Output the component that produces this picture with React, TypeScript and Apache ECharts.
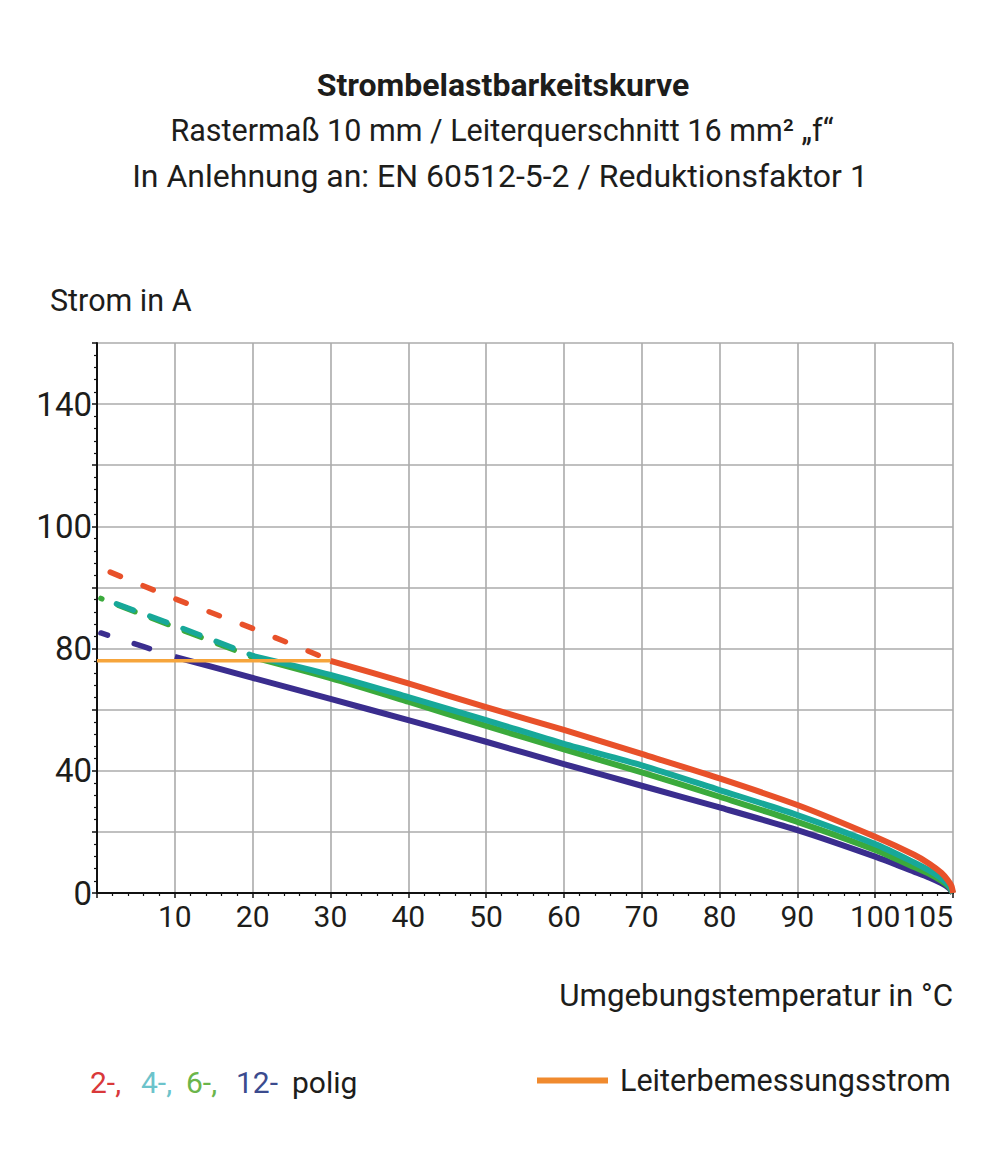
import React, { useEffect, useRef } from "react";
import * as echarts from "echarts";

// ---------- text ----------
const titleMain = "Strombelastbarkeitskurve";
const titleSub1 = "Rastermaß 10 mm / Leiterquerschnitt 16 mm² „f“";
const titleSub2 = "In Anlehnung an: EN 60512-5-2 / Reduktionsfaktor 1";
const yAxisTitle = "Strom in A";
const xAxisTitle = "Umgebungstemperatur in °C";
const ratedName = "Leiterbemessungsstrom";
const poleParts = ["2-,", "4-,", "6-,", "12-", "polig"];

// tick labels as printed on the original (one per grid line)
const xTickLabels = ["", "10", "20", "30", "40", "50", "60", "70", "80", "90", "100", "105"];
const yTickLabels = ["0", "", "40", "", "80", "", "100", "", "140", ""];

// ---------- data (axis units) ----------
const redDashX = [1.7, 10, 20, 30];
const redDashY = [105, 96.3, 86.6, 76.2];
const redX = [30, 40, 50, 60, 70, 80, 90, 100, 105, 107, 108.5, 109.3, 109.8, 110];
const redY = [76, 68.6, 60.8, 53.4, 45.5, 37.5, 28.8, 18.4, 12.5, 9.5, 6.6, 4.3, 2.3, 0];

const tealDashX = [2.5, 10, 20];
const tealDashY = [94.6, 87.6, 77.7];
const tealX = [20, 30, 40, 50, 60, 70, 80, 90, 100, 105, 107, 108.5, 109.5, 110];
const tealY = [77.6, 71.4, 64.1, 56.6, 48.8, 41.8, 33.7, 25.5, 16.0, 10.0, 7.3, 4.8, 2.4, 0];

const greenDashX = [0.5, 10, 20];
const greenDashY = [96.4, 87.0, 77.2];
const greenX = [20, 30, 40, 50, 60, 70, 80, 90, 100, 105, 107, 108.5, 109.5, 110];
const greenY = [77.2, 70.3, 62.6, 54.7, 47.0, 39.5, 31.5, 23.3, 14.1, 8.5, 6.2, 4.0, 2.0, 0];

const blueDashX = [0.5, 6, 10];
const blueDashY = [85.1, 80.6, 77.3];
const blueX = [10, 20, 30, 40, 50, 60, 70, 80, 90, 100, 105, 107, 108.5, 109.5, 110];
const blueY = [77.3, 70.4, 63.5, 56.6, 49.5, 42.2, 35.1, 28.0, 20.6, 11.9, 7.0, 5.0, 3.2, 1.6, 0];

const ratedX = [0, 30];
const ratedY = [76, 76];

// ---------- style ----------
const FONT = "Roboto, 'Noto Sans', sans-serif";
const TEXT = "#1d1d1b";
const C_RED = "#E8512A";
const C_TEAL = "#17A899";
const C_GREEN = "#3BAA3C";
const C_BLUE = "#3A2D8E";
const C_ORANGE = "#F6A53C";
const C_ORANGE_LEG = "#F08A2E";

const zip = (xs: number[], ys: number[]) => xs.map((x, i) => [x, ys[i]]);

function solid(name: string, xs: number[], ys: number[], color: string, z: number) {
  return {
    type: "line",
    name,
    data: zip(xs, ys),
    showSymbol: false,
    symbol: "none",
    smooth: 0.25,
    clip: false,
    z,
    lineStyle: { color, width: 6, cap: "butt", join: "round" },
    itemStyle: { color },
  };
}

function dashed(
  name: string,
  xs: number[],
  ys: number[],
  color: string,
  pattern: number[],
  offset: number,
  z: number
) {
  return {
    type: "line",
    name,
    data: zip(xs, ys),
    showSymbol: false,
    symbol: "none",
    clip: false,
    z,
    lineStyle: { color, width: 5.5, type: pattern, dashOffset: offset, cap: "round" },
    itemStyle: { color },
  };
}

export default function App() {
  const ref = useRef<HTMLDivElement>(null);

  useEffect(() => {
    if (!ref.current) return;
    const chart = echarts.init(ref.current, null, { renderer: "svg" });
    const richBase = { fontSize: 30, fontFamily: FONT };
    const option: any = {
      animation: false,
      backgroundColor: "#ffffff",
      textStyle: { fontFamily: FONT },
      grid: { left: 97, top: 343, width: 856, height: 550, containLabel: false },
      xAxis: {
        type: "value",
        min: 0,
        max: 110,
        interval: 10,
        axisLine: { show: true, onZero: false, lineStyle: { color: "#111", width: 2 } },
        axisTick: { show: true, length: 5, lineStyle: { color: "#111", width: 1.5 } },
        minorTick: { show: true, splitNumber: 5, length: 3, lineStyle: { color: "#111", width: 1.2 } },
        splitLine: { show: true, lineStyle: { color: "#ABABAB", width: 1.6 } },
        axisLabel: {
          show: true,
          margin: 8,
          fontSize: 30,
          fontFamily: FONT,
          color: TEXT,
          showMinLabel: true,
          showMaxLabel: true,
          hideOverlap: false,
          alignMaxLabel: "right",
          formatter: (v: number) => xTickLabels[Math.round(v / 10)] ?? "",
        },
      },
      yAxis: {
        type: "value",
        min: 0,
        max: 180,
        interval: 20,
        axisLine: { show: true, onZero: false, lineStyle: { color: "#111", width: 2 } },
        axisTick: { show: true, length: 5, lineStyle: { color: "#111", width: 1.5 } },
        minorTick: { show: true, splitNumber: 5, length: 3, lineStyle: { color: "#111", width: 1.2 } },
        splitLine: { show: true, lineStyle: { color: "#ABABAB", width: 1.6 } },
        axisLabel: {
          show: true,
          margin: 5,
          fontSize: 33,
          fontFamily: FONT,
          color: TEXT,
          formatter: (v: number) => yTickLabels[Math.round(v / 20)] ?? "",
        },
      },
      legend: {
        show: true,
        selectedMode: false,
        left: 537,
        top: 1065,
        padding: 0,
        itemWidth: 71,
        itemHeight: 6,
        icon: "rect",
        data: [{ name: ratedName, itemStyle: { color: C_ORANGE_LEG } }],
        textStyle: { fontSize: 30.5, fontFamily: FONT, color: TEXT, padding: [0, 0, 0, 7] },
      },
      graphic: [
        {
          type: "text",
          x: 503,
          y: 85,
          style: {
            text: titleMain,
            align: "center",
            verticalAlign: "middle",
            fontSize: 32,
            fontWeight: "bold",
            fontFamily: FONT,
            fill: TEXT,
          },
        },
        {
          type: "text",
          x: 502,
          y: 130,
          style: {
            text: titleSub1,
            align: "center",
            verticalAlign: "middle",
            fontSize: 30.5,
            fontFamily: FONT,
            fill: TEXT,
          },
        },
        {
          type: "text",
          x: 500,
          y: 176,
          style: {
            text: titleSub2,
            align: "center",
            verticalAlign: "middle",
            fontSize: 32,
            fontFamily: FONT,
            fill: TEXT,
          },
        },
        {
          type: "text",
          x: 50,
          y: 300,
          style: {
            text: yAxisTitle,
            align: "left",
            verticalAlign: "middle",
            fontSize: 30.5,
            fontFamily: FONT,
            fill: TEXT,
          },
        },
        {
          type: "text",
          x: 953,
          y: 995,
          style: {
            text: xAxisTitle,
            align: "right",
            verticalAlign: "middle",
            fontSize: 31.3,
            fontFamily: FONT,
            fill: TEXT,
          },
        },
        {
          type: "text",
          x: 90,
          y: 1082,
          style: {
            text: poleParts
              .map((p, i) => `{${["a", "b", "c", "d", "e"][i]}|${p}}`)
              .join(""),
            align: "left",
            verticalAlign: "middle",
            fontSize: 30,
            fontFamily: FONT,
            fill: TEXT,
            rich: {
              a: { ...richBase, fill: "#D9383A", width: 51 },
              b: { ...richBase, fill: "#6CC3CB", width: 45 },
              c: { ...richBase, fill: "#6BB54B", width: 50 },
              d: { ...richBase, fill: "#3B4B8E", width: 56 },
              e: { ...richBase, fill: TEXT },
            },
          },
        },
      ],
      series: [
        dashed("12-polig gestrichelt", blueDashX, blueDashY, C_BLUE, [16, 28], 8.5, 2),
        dashed("6-polig gestrichelt", greenDashX, greenDashY, C_GREEN, [18, 17.5], 16.5, 3),
        dashed("4-polig gestrichelt", tealDashX, tealDashY, C_TEAL, [18, 17.5], 0, 4),
        dashed("2-polig gestrichelt", redDashX, redDashY, C_RED, [11, 24.5], 0, 6),
        solid("12-polig", blueX, blueY, C_BLUE, 2),
        solid("6-polig", greenX, greenY, C_GREEN, 3),
        solid("4-polig", tealX, tealY, C_TEAL, 4),
        {
          type: "line",
          name: ratedName,
          data: zip(ratedX, ratedY),
          showSymbol: false,
          symbol: "none",
          clip: false,
          z: 5,
          lineStyle: { color: C_ORANGE, width: 3.5 },
          itemStyle: { color: C_ORANGE },
        },
        solid("2-polig", redX, redY, C_RED, 6),
      ],
    };
    chart.setOption(option);
    return () => chart.dispose();
  }, []);

  return (
    <div
      ref={ref}
      style={{ position: "absolute", left: 0, top: 0, width: 1000, height: 1173, background: "#fff" }}
    />
  );
}
